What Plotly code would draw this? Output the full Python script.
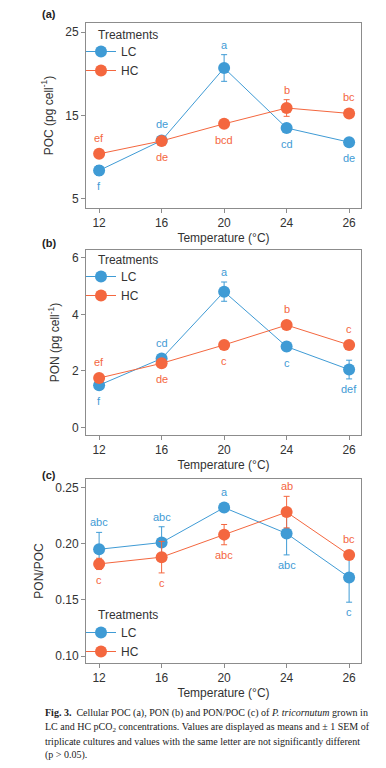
import plotly.graph_objects as go

# ---------------- data ----------------
TEMPS = ["12", "16", "20", "24", "26"]
TREATMENTS = ["LC", "HC"]

POC_LC = [8.4, 12.0, 20.7, 13.5, 11.8]
POC_LC_SE = [0.6, 0.4, 1.6, 0.3, 0.3]
POC_HC = [10.4, 11.95, 14.0, 15.9, 15.25]
POC_HC_SE = [0.3, 0.3, 0.3, 1.0, 0.3]
POC_LC_LET = ["f", "de", "a", "cd", "de"]
POC_HC_LET = ["ef", "de", "bcd", "b", "bc"]

PON_LC = [1.50, 2.44, 4.80, 2.86, 2.05]
PON_LC_SE = [0.10, 0.12, 0.34, 0.15, 0.33]
PON_HC = [1.75, 2.27, 2.92, 3.62, 2.92]
PON_HC_SE = [0.08, 0.10, 0.08, 0.10, 0.08]
PON_LC_LET = ["f", "cd", "a", "c", "def"]
PON_HC_LET = ["ef", "de", "c", "b", "c"]

RATIO_LC = [0.195, 0.201, 0.232, 0.209, 0.170]
RATIO_LC_SE = [0.015, 0.014, 0.003, 0.019, 0.022]
RATIO_HC = [0.182, 0.188, 0.208, 0.228, 0.190]
RATIO_HC_SE = [0.005, 0.014, 0.009, 0.014, 0.003]
RATIO_LC_LET = ["abc", "abc", "a", "abc", "c"]
RATIO_HC_LET = ["c", "c", "abc", "ab", "bc"]

# letter placement (+1 above, -1 below)
POC_LC_SIDE = [-1, 1, 1, -1, -1]
POC_HC_SIDE = [1, -1, -1, 1, 1]
PON_LC_SIDE = [-1, 1, 1, -1, -1]
PON_HC_SIDE = [1, -1, -1, 1, 1]
RATIO_LC_SIDE = [1, 1, 1, -1, -1]
RATIO_HC_SIDE = [-1, -1, -1, 1, 1]

# ---------------- style ----------------
W, H = 386, 768
COL = {"LC": "#3f9bd5", "HC": "#f4673f"}
TXT = "#333333"
FRAME = "#8c8c8c"
FONT = "Liberation Sans, Arial, sans-serif"
SERIF = "Liberation Serif, Times New Roman, serif"
MSIZE = 12

X_PX = (86, 361)
panels = [
    dict(name="a", top=23, bot=208, rng=[3.9, 26.1], tickvals=[5, 15, 25], fmt="",
         ytitle="POC (pg cell<sup>-1</sup>)",
         lc=(POC_LC, POC_LC_SE, POC_LC_LET, POC_LC_SIDE),
         hc=(POC_HC, POC_HC_SE, POC_HC_LET, POC_HC_SIDE),
         legtitle_y=35, legend_y=37, label_y=14),
    dict(name="b", top=250, bot=435, rng=[-0.26, 6.27], tickvals=[0, 2, 4, 6], fmt="",
         ytitle="PON (pg cell<sup>-1</sup>)",
         lc=(PON_LC, PON_LC_SE, PON_LC_LET, PON_LC_SIDE),
         hc=(PON_HC, PON_HC_SE, PON_HC_LET, PON_HC_SIDE),
         legtitle_y=260, legend_y=262, label_y=243),
    dict(name="c", top=479, bot=663, rng=[0.094, 0.2574], tickvals=[0.10, 0.15, 0.20, 0.25], fmt=".2f",
         ytitle="PON/POC",
         lc=(RATIO_LC, RATIO_LC_SE, RATIO_LC_LET, RATIO_LC_SIDE),
         hc=(RATIO_HC, RATIO_HC_SE, RATIO_HC_LET, RATIO_HC_SIDE),
         legtitle_y=615, legend_y=618, label_y=475),
]

fig = go.Figure()
annotations = []
layout = dict(
    width=W, height=H, margin=dict(l=0, r=0, t=0, b=0),
    paper_bgcolor="white", plot_bgcolor="white",
    font=dict(family=FONT, color=TXT, size=12),
    showlegend=True,
)

for i, p in enumerate(panels):
    k = "" if i == 0 else str(i + 1)
    xa, ya = "x" + k, "y" + k
    leg = "legend" + k
    ydom = [1 - p["bot"] / H, 1 - p["top"] / H]
    layout["xaxis" + k] = dict(
        domain=[X_PX[0] / W, X_PX[1] / W], type="category", categoryarray=TEMPS,
        categoryorder="array", range=[-0.21, 4.19], anchor=ya,
        showline=True, mirror=True, linecolor=FRAME, linewidth=1,
        ticks="outside", ticklen=4, tickcolor=FRAME, showgrid=False, zeroline=False,
        tickfont=dict(size=12, color=TXT),
        title=dict(text="Temperature (°C)", font=dict(size=12, color=TXT), standoff=4),
    )
    layout["yaxis" + k] = dict(
        domain=ydom, range=p["rng"], anchor=xa, tickvals=p["tickvals"], tickformat=p["fmt"],
        showline=True, mirror=True, linecolor=FRAME, linewidth=1,
        ticks="outside", ticklen=4, tickcolor=FRAME, showgrid=False, zeroline=False,
        tickfont=dict(size=12, color=TXT),
        title=dict(text=p["ytitle"], font=dict(size=12, color=TXT), standoff=9),
    )
    layout[leg] = dict(
        x=81 / W, y=1 - p["legend_y"] / H, xanchor="left", yanchor="top",
        bgcolor="rgba(0,0,0,0)", font=dict(size=12, color=TXT),
        tracegroupgap=0, itemwidth=30,
    )
    annotations.append(dict(
        x=96 / W, y=1 - p["legtitle_y"] / H, xref="paper", yref="paper", xanchor="left",
        yanchor="middle", text="Treatments", showarrow=False,
        font=dict(size=12, color=TXT),
    ))
    px_per_unit = (p["bot"] - p["top"]) / (p["rng"][1] - p["rng"][0])
    for t, data in (("LC", p["lc"]), ("HC", p["hc"])):
        vals, se, lets, sides = data
        fig.add_trace(go.Scatter(
            x=TEMPS, y=vals, name=t, mode="lines+markers", xaxis=xa, yaxis=ya, legend=leg,
            line=dict(color=COL[t], width=1),
            marker=dict(color=COL[t], size=MSIZE, line=dict(width=0)),
            error_y=dict(type="data", array=se, color=COL[t], thickness=1, width=3),
        ))
        for idx, (v, s, lt, sd) in enumerate(zip(vals, se, lets, sides)):
            off = max(s * px_per_unit, MSIZE / 2) + 2
            annotations.append(dict(
                x=idx, y=v, xref=xa, yref=ya, text=lt, showarrow=False,
                yanchor="bottom" if sd > 0 else "top", yshift=off * sd,
                font=dict(size=11, color=COL[t]),
            ))
    annotations.append(dict(
        x=40 / W, y=1 - p["label_y"] / H, xref="paper", yref="paper", xanchor="left",
        yanchor="middle", text="<b>(" + p["name"] + ")</b>", showarrow=False,
        font=dict(size=11, color="#222222"),
    ))

CAPTION = [
    "<b>Fig. 3.</b>  Cellular POC (a), PON (b) and PON/POC (c) of <i>P. tricornutum</i> grown in",
    "LC and HC pCO<sub>2</sub> concentrations. Values are displayed as means and ± 1 SEM of",
    "triplicate cultures and values with the same letter are not significantly different",
    "(p > 0.05).",
]
for j, line in enumerate(CAPTION):
    annotations.append(dict(
        x=43 / W, y=1 - (713 + 14 * j) / H, xref="paper", yref="paper", xanchor="left",
        yanchor="middle", text=line, showarrow=False,
        font=dict(family=SERIF, size=10, color="#222222"),
    ))

layout["annotations"] = annotations
fig.update_layout(**layout)
fig.write_html("out.html", config={"displayModeBar": False},
               post_script="document.body.style.margin='0px';")
